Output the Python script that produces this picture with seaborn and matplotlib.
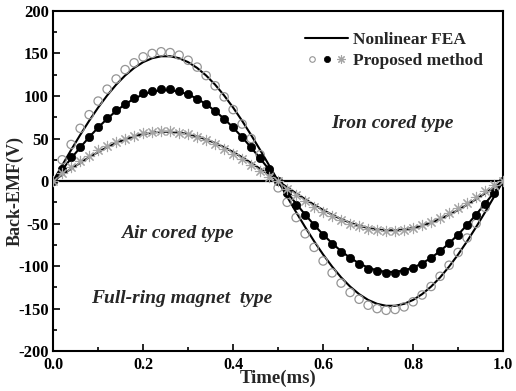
import matplotlib
matplotlib.use("Agg")
import matplotlib.pyplot as plt
from matplotlib.lines import Line2D
from matplotlib.legend_handler import HandlerBase
from matplotlib.ticker import MultipleLocator
import numpy as np
import seaborn as sns

# time samples (ms)
time_ms = [0.00, 0.02, 0.04, 0.06, 0.08, 0.10, 0.12, 0.14, 0.16, 0.18,
           0.20, 0.22, 0.24, 0.26, 0.28, 0.30, 0.32, 0.34, 0.36, 0.38,
           0.40, 0.42, 0.44, 0.46, 0.48, 0.50, 0.52, 0.54, 0.56, 0.58,
           0.60, 0.62, 0.64, 0.66, 0.68, 0.70, 0.72, 0.74, 0.76, 0.78,
           0.80, 0.82, 0.84, 0.86, 0.88, 0.90, 0.92, 0.94, 0.96, 0.98, 1.00]

# Nonlinear FEA curves (V)
fea_full_ring = [0, 18.4, 36.6, 54.1, 70.8, 86.4, 100.6, 113.3, 124.1, 133.0,
                 139.8, 144.4, 146.7, 146.7, 144.4, 139.8, 133.0, 124.1, 113.3, 100.6,
                 86.4, 70.8, 54.1, 36.6, 18.4, 0, -18.4, -36.6, -54.1, -70.8,
                 -86.4, -100.6, -113.3, -124.1, -133.0, -139.8, -144.4, -146.7, -146.7, -144.4,
                 -139.8, -133.0, -124.1, -113.3, -100.6, -86.4, -70.8, -54.1, -36.6, -18.4, 0]
fea_iron = [0, 13.4, 26.6, 39.4, 51.6, 62.9, 73.2, 82.4, 90.3, 96.8,
            101.8, 105.1, 106.8, 106.8, 105.1, 101.8, 96.8, 90.3, 82.4, 73.2,
            62.9, 51.6, 39.4, 26.6, 13.4, 0, -13.4, -26.6, -39.4, -51.6,
            -62.9, -73.2, -82.4, -90.3, -96.8, -101.8, -105.1, -106.8, -106.8, -105.1,
            -101.8, -96.8, -90.3, -82.4, -73.2, -62.9, -51.6, -39.4, -26.6, -13.4, 0]
fea_air = [0, 7.3, 14.4, 21.3, 27.9, 34.1, 39.7, 44.7, 49.0, 52.5,
           55.2, 57.0, 57.9, 57.9, 57.0, 55.2, 52.5, 49.0, 44.7, 39.7,
           34.1, 27.9, 21.3, 14.4, 7.3, 0, -7.3, -14.4, -21.3, -27.9,
           -34.1, -39.7, -44.7, -49.0, -52.5, -55.2, -57.0, -57.9, -57.9, -57.0,
           -55.2, -52.5, -49.0, -44.7, -39.7, -34.1, -27.9, -21.3, -14.4, -7.3, 0]

# Proposed method points (V)
pm_full_ring = [np.nan, 25, 43, 62, 78, 94, 108, 120, 131, 139,
                146, 150, 152, 151, 148, 142, 134, 124, 112, 99,
                84, 67, 50, 31, 12, -8, -25, -43, -62, -78,
                -94, -108, -120, -131, -139, -146, -150, -152, -151, -148,
                -142, -134, -124, -112, -99, -84, -67, -50, -31, -12, np.nan]
pm_iron = [0, 14, 28, 40, 52, 64, 74, 84, 91, 98,
           103, 106, 108, 108, 106, 102, 97, 90, 82, 73,
           63, 52, 40, 27, 14, 0, -14, -28, -40, -52,
           -64, -74, -84, -91, -98, -103, -106, -108, -108, -106,
           -102, -97, -90, -82, -73, -63, -52, -40, -27, -14, 0]
pm_air = [0, 9, 16, 23, 30, 36, 41, 46, 50, 53,
          56, 58, 59, 59, 57, 55, 52, 48, 43, 38,
          32, 26, 19, 12, 5, 0, -9, -16, -23, -30,
          -36, -41, -46, -50, -53, -56, -58, -59, -59, -57,
          -55, -52, -48, -43, -38, -32, -26, -19, -12, -5, 0]


class MarkerRow(HandlerBase):
    # draws the three "proposed method" markers side by side in one legend slot
    def create_artists(self, legend, orig_handle, xdescent, ydescent,
                       width, height, fontsize, trans):
        arts = []
        n = len(orig_handle)
        y = -ydescent + height / 2
        for i, h in enumerate(orig_handle):
            x = -xdescent + width * (i + 0.5) / n
            arts.append(Line2D([x], [y], marker=h.get_marker(), ls='none',
                               mfc=h.get_markerfacecolor(),
                               mec=h.get_markeredgecolor(),
                               ms=h.get_markersize(),
                               mew=h.get_markeredgewidth(),
                               transform=trans))
        return arts


class MarkerSet(tuple):
    pass


sns.set_theme(style="ticks")
plt.rcParams['font.family'] = ['Liberation Serif', 'DejaVu Serif']
plt.rcParams['font.weight'] = 'bold'

fig = plt.figure(figsize=(5.16, 3.91), dpi=100)
ax = fig.add_axes([0.103, 0.102, 0.872, 0.870])

ax.axhline(0, color='black', lw=1.6, zorder=1)

for vals in (fea_full_ring, fea_iron, fea_air):
    sns.lineplot(x=time_ms, y=vals, color='black', lw=1.5, ax=ax, zorder=2)

circle_gray = '#959595'
star_gray = '#a5a5a5'
sns.scatterplot(x=time_ms, y=pm_full_ring, marker='o', s=36, facecolor='none',
                edgecolor=circle_gray, linewidth=0.9, ax=ax, zorder=3)
sns.scatterplot(x=time_ms, y=pm_iron, marker='o', s=36, color='black',
                edgecolor='black', linewidth=0.5, ax=ax, zorder=3)
sns.scatterplot(x=time_ms, y=pm_air, marker=(8, 2, 0), s=55, color=star_gray,
                linewidth=0.8, ax=ax, zorder=3)

ax.set_xlim(0, 1.0)
ax.set_ylim(-200, 200)
ax.xaxis.set_major_locator(MultipleLocator(0.2))
ax.xaxis.set_minor_locator(MultipleLocator(0.1))
ax.yaxis.set_major_locator(MultipleLocator(50))
ax.yaxis.set_minor_locator(MultipleLocator(25))
ax.xaxis.set_major_formatter(plt.FuncFormatter(lambda v, p: f"{v:.1f}"))
ax.yaxis.set_major_formatter(plt.FuncFormatter(lambda v, p: f"{v:.0f}"))
ax.tick_params(which='both', direction='in', top=False, right=False,
               width=1.2, colors='black')
ax.tick_params(which='major', length=5)
ax.tick_params(which='minor', length=3)
ax.tick_params(axis='x', labelsize=11.5, pad=4)
ax.tick_params(axis='y', labelsize=12, pad=3)
for sp in ax.spines.values():
    sp.set_visible(True)
    sp.set_linewidth(1.5)
    sp.set_color('black')

fig.canvas.draw()
xlabels = ax.get_xticklabels()
for lab in xlabels + ax.get_yticklabels():
    lab.set_fontweight('bold')
xlabels[0].set_horizontalalignment('left')

ax.set_xlabel('Time(ms)', fontsize=13.5, fontweight='bold', labelpad=-2)
ax.set_ylabel('Back-EMF(V)', fontsize=13, fontweight='bold', va='center')
ax.yaxis.set_label_coords(-0.085, 0.47)

txt = dict(fontsize=14, fontweight='bold', fontstyle='italic', ha='center', va='center')
ax.text(0.755, 68, 'Iron cored type', **txt)
ax.text(0.275, -62, 'Air cored type', **txt)
ax.text(0.285, -138, 'Full-ring magnet  type', **txt)

h_line = Line2D([], [], color='black', lw=1.5)
h_c = Line2D([], [], marker='o', ls='none', mfc='none', mec=circle_gray, ms=4, mew=0.8)
h_d = Line2D([], [], marker='o', ls='none', mfc='black', mec='black', ms=4.5, mew=0.5)
h_s = Line2D([], [], marker=(8, 2, 0), ls='none', mfc=star_gray, mec=star_gray,
             ms=6, mew=0.8)
ax.legend([h_line, MarkerSet((h_c, h_d, h_s))], ['Nonlinear FEA', 'Proposed method'],
          handler_map={MarkerSet: MarkerRow()},
          loc='upper left', bbox_to_anchor=(0.544, 0.958), borderaxespad=0,
          frameon=False, prop={'size': 12.5, 'weight': 'bold'},
          handlelength=2.5, handletextpad=0.25, labelspacing=0.28)

fig.savefig('out.png', dpi=100)
